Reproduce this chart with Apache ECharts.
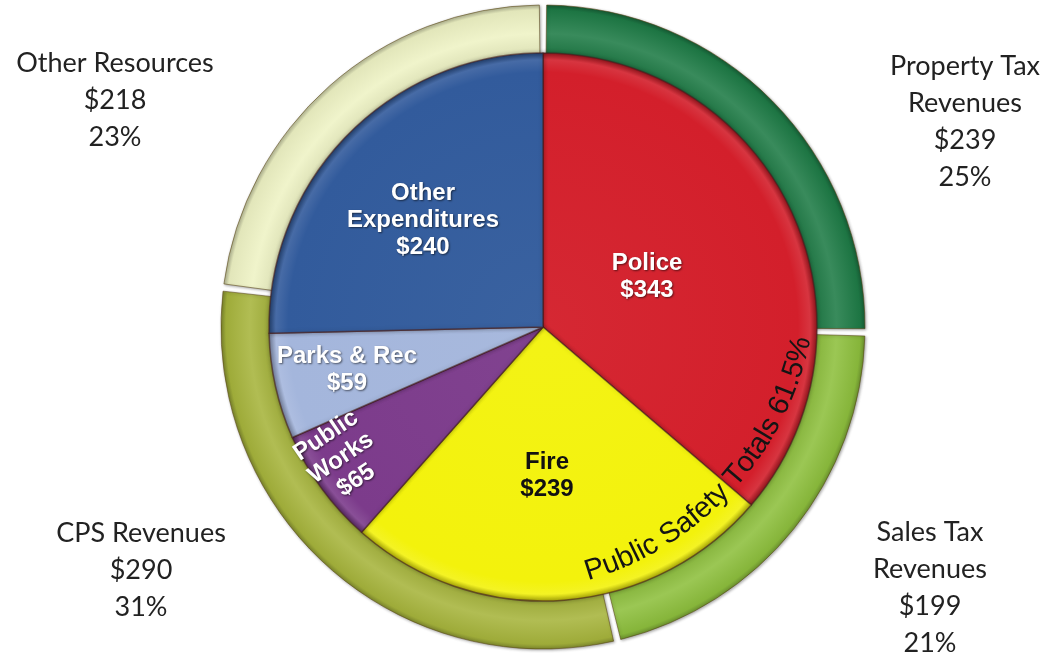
<!DOCTYPE html>
<html>
<head>
<meta charset="utf-8">
<title>General Fund Resources and Expenditures</title>
<script src="https://cdn.jsdelivr.net/npm/echarts@6/dist/echarts.min.js"></script>
<style>
  html, body { margin: 0; padding: 0; background: #ffffff; }
  #chart { width: 1051px; height: 658px; }
</style>
</head>
<body>
<div id="chart"></div>
<script>
// Expenditures (inner pie), $ millions
const expenseNames = ['Police', 'Fire', 'Public\nWorks', 'Parks & Rec', 'Other\nExpenditures'];
const expenseValues = [343, 239, 65, 59, 240];
const expenseColors = ['#d31f2b', '#f3f20c', '#7c3b8b', '#a4b6dc', '#325b9c'];
const expenseTextColors = ['#ffffff', '#111111', '#ffffff', '#ffffff', '#ffffff'];

// Resources (outer ring), $ millions
const revenueNames = ['Property Tax\nRevenues', 'Sales Tax\nRevenues', 'CPS Revenues', 'Other Resources'];
const revenueValues = [239, 199, 290, 218];
const revenueColors = ['#1e7b46', '#8dbf3d', '#a6b43c', '#eef2c4'];

// Public safety = Police + Fire
const safetyIdx = [0, 1];

// ---- layout ----
const CX = 543, CY = 327;
const PIE_R = 274;
const RING_R = [270, 322];
// label anchors (block centers) in px
const expenseLabelPos = [[647, 277], [547, 476], [341, 458], [347, 370], [423, 220]];
const expenseLabelRot = [0, 0, 34, 0, 0];
const revenueLabelPos = [[965, 122], [930, 588], [141, 570], [115, 100]];

function shade(hex, f) {
  const n = parseInt(hex.slice(1), 16);
  let r = (n >> 16) & 255, g = (n >> 8) & 255, b = n & 255;
  const m = c => Math.max(0, Math.min(255, Math.round(f >= 0 ? c + (255 - c) * f : c * (1 + f))));
  return `rgb(${m(r)},${m(g)},${m(b)})`;
}

function ringFill(c) {
  const a = RING_R[0] / RING_R[1];
  return {
    type: 'radial', x: CX, y: CY, r: RING_R[1], global: true,
    colorStops: [
      { offset: 0, color: shade(c, -0.1) },
      { offset: a, color: shade(c, -0.08) },
      { offset: a + (1 - a) * 0.45, color: shade(c, 0.12) },
      { offset: 0.985, color: shade(c, -0.05) },
      { offset: 1, color: shade(c, -0.25) }
    ]
  };
}

function pieFill(c) {
  return {
    type: 'radial', x: CX, y: CY, r: PIE_R, global: true,
    colorStops: [
      { offset: 0, color: shade(c, 0.04) },
      { offset: 0.93, color: c },
      { offset: 0.975, color: shade(c, 0.1) },
      { offset: 1, color: shade(c, -0.3) }
    ]
  };
}

const totalExp = expenseValues.reduce((a, b) => a + b, 0);
const safetyShare = (safetyIdx.reduce((a, i) => a + expenseValues[i], 0) / totalExp * 100).toFixed(1);
const safetyText = 'Public Safety Totals ' + safetyShare + '%';

// Text set along an arc (glyph tops toward the arc center, reading counter-clockwise)
function arcText(text, ocx, ocy, R, startDeg, fs, family) {
  const ctx = document.createElement('canvas').getContext('2d');
  const font = `${fs}px ${family}`;
  ctx.font = font;
  const rc = R - 0.33 * fs;
  let s = 0;
  const els = [];
  for (const ch of text) {
    const w = ctx.measureText(ch).width;
    const th = startDeg * Math.PI / 180 - (s + w / 2) / R;
    s += w;
    els.push({
      type: 'text',
      x: ocx + rc * Math.sin(th),
      y: ocy - rc * Math.cos(th),
      rotation: Math.atan2(Math.sin(th), -Math.cos(th)),
      z: 100,
      style: { text: ch, font: font, fill: '#141414', align: 'center', verticalAlign: 'middle' }
    });
  }
  return els;
}

const chart = echarts.init(document.getElementById('chart'), null, { renderer: 'canvas' });

const option = {
  backgroundColor: '#ffffff',
  animation: false,
  series: [
    {
      type: 'pie',
      name: 'Resources',
      center: [CX, CY],
      radius: RING_R,
      startAngle: 90,
      clockwise: true,
      padAngle: 1.3,
      avoidLabelOverlap: false,
      silent: true,
      itemStyle: {
        borderColor: 'rgba(90,70,20,0.55)',
        borderWidth: 1,
        shadowBlur: 3,
        shadowColor: 'rgba(0,0,0,0.35)',
        shadowOffsetX: 1,
        shadowOffsetY: 1
      },
      label: {
        show: true,
        position: 'outside',
        fontFamily: 'Lato',
        fontSize: 27,
        lineHeight: 37,
        color: '#222222',
        align: 'center',
        formatter: p => p.name + '\n$' + p.value + '\n' + Math.round(p.percent) + '%'
      },
      labelLine: { show: false },
      labelLayout: p => ({
        x: revenueLabelPos[p.dataIndex][0],
        y: revenueLabelPos[p.dataIndex][1],
        align: 'center',
        verticalAlign: 'middle'
      }),
      data: revenueValues.map((v, i) => ({
        name: revenueNames[i],
        value: v,
        itemStyle: { color: ringFill(revenueColors[i]) }
      }))
    },
    {
      type: 'pie',
      name: 'Expenditures',
      center: [CX, CY],
      radius: [0, PIE_R],
      startAngle: 90,
      clockwise: true,
      avoidLabelOverlap: false,
      silent: true,
      itemStyle: {
        borderColor: 'rgba(70,30,30,0.6)',
        borderWidth: 1.5,
        shadowBlur: 4,
        shadowColor: 'rgba(0,0,0,0.3)'
      },
      label: {
        show: true,
        position: 'inside',
        fontFamily: 'Liberation Sans',
        fontWeight: 'bold',
        fontSize: 24,
        lineHeight: 27,
        align: 'center',
        formatter: p => p.name + '\n$' + p.value
      },
      labelLine: { show: false },
      labelLayout: p => ({
        x: expenseLabelPos[p.dataIndex][0],
        y: expenseLabelPos[p.dataIndex][1],
        rotate: expenseLabelRot[p.dataIndex],
        align: 'center',
        verticalAlign: 'middle'
      }),
      data: expenseValues.map((v, i) => ({
        name: expenseNames[i],
        value: v,
        itemStyle: { color: pieFill(expenseColors[i]) },
        label: {
          color: expenseTextColors[i],
          textShadowColor: i === 1 ? 'transparent' : 'rgba(0,0,0,0.55)',
          textShadowBlur: 2,
          textShadowOffsetX: 1,
          textShadowOffsetY: 1
        }
      }))
    }
  ],
  graphic: arcText(safetyText, CX - 42, CY - 50, 317, 164, 29, '"Liberation Sans", Arial, sans-serif')
};

chart.setOption(option);
</script>
</body>
</html>
